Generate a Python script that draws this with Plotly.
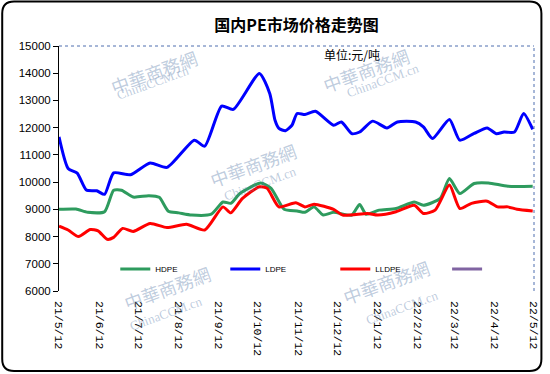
import plotly.graph_objects as go

title_text = "国内PE市场价格走势图"
unit_text = "单位:元/吨"

tick_dates = ["2021-05-12", "2021-06-12", "2021-07-12", "2021-08-12", "2021-09-12",
              "2021-10-12", "2021-11-12", "2021-12-12", "2022-01-12", "2022-02-12",
              "2022-03-12", "2022-04-12", "2022-05-12"]
tick_labels = ["21/5/12", "21/6/12", "21/7/12", "21/8/12", "21/9/12", "21/10/12",
               "21/11/12", "21/12/12", "22/1/12", "22/2/12", "22/3/12", "22/4/12", "22/5/12"]

hdpe_dates = ["2021-05-12", "2021-05-25", "2021-06-03", "2021-06-16", "2021-06-23", "2021-06-29",
              "2021-07-08", "2021-07-20", "2021-07-28", "2021-08-04", "2021-08-12", "2021-08-22",
              "2021-09-06", "2021-09-15", "2021-09-21", "2021-09-28", "2021-10-14", "2021-10-22",
              "2021-11-01", "2021-11-11", "2021-11-17", "2021-11-24", "2021-12-01", "2021-12-09",
              "2021-12-23", "2021-12-29", "2022-01-03", "2022-01-13", "2022-01-26", "2022-02-09",
              "2022-02-16", "2022-03-01", "2022-03-08", "2022-03-16", "2022-03-27", "2022-04-07",
              "2022-04-22", "2022-05-11"]
hdpe_values = [9000, 9010, 8890, 8910, 9700, 9700,
               9450, 9500, 9440, 8930, 8870, 8790,
               8820, 9270, 9220, 9580, 9970, 9770,
               9000, 8940, 8890, 9090, 8790, 8890,
               8790, 9180, 8820, 8970, 9030, 9270,
               9150, 9400, 10130, 9580, 9950, 9970,
               9850, 9850]

ldpe_dates = ["2021-05-12", "2021-05-19", "2021-05-26", "2021-06-02", "2021-06-10", "2021-06-16",
              "2021-06-23", "2021-07-06", "2021-07-21", "2021-08-03", "2021-08-24", "2021-09-01",
              "2021-09-14", "2021-09-23", "2021-10-13", "2021-10-21", "2021-10-25", "2021-10-28",
              "2021-11-02", "2021-11-07", "2021-11-11", "2021-11-17", "2021-11-25", "2021-12-09",
              "2021-12-15", "2021-12-23", "2021-12-29", "2022-01-08", "2022-01-19", "2022-01-27",
              "2022-02-10", "2022-02-16", "2022-02-23", "2022-03-08", "2022-03-16", "2022-03-27",
              "2022-04-06", "2022-04-13", "2022-04-19", "2022-04-27", "2022-05-04", "2022-05-11"]
ldpe_values = [11660, 10500, 10330, 9710, 9680, 9550,
               10340, 10270, 10700, 10540, 11540, 11320,
               12790, 12670, 13990, 13250, 12270, 11970,
               11890, 12090, 12520, 12480, 12600, 12090,
               12210, 11780, 11840, 12240, 11990, 12210,
               12210, 12030, 11600, 12300, 11540, 11790,
               11990, 11780, 11840, 11840, 12520, 11940]

lldpe_dates = ["2021-05-12", "2021-05-19", "2021-05-27", "2021-06-05", "2021-06-11", "2021-06-18",
               "2021-06-23", "2021-06-30", "2021-07-08", "2021-07-21", "2021-08-03", "2021-08-18",
               "2021-09-01", "2021-09-15", "2021-09-21", "2021-09-30", "2021-10-13", "2021-10-19",
               "2021-10-28", "2021-11-10", "2021-11-17", "2021-11-24", "2021-12-09", "2021-12-16",
               "2022-01-04", "2022-01-12", "2022-01-26", "2022-02-09", "2022-02-16", "2022-02-25",
               "2022-03-08", "2022-03-16", "2022-03-25", "2022-04-06", "2022-04-14", "2022-04-22",
               "2022-04-29", "2022-05-11"]
lldpe_values = [8380, 8240, 8000, 8260, 8210, 7900,
                7970, 8300, 8190, 8480, 8330, 8450,
                8240, 9090, 8870, 9400, 9830, 9770,
                9090, 9240, 9090, 9190, 9000, 8790,
                8850, 8790, 8910, 9150, 8850, 8970,
                9890, 9030, 9220, 9300, 9090, 9090,
                9000, 8940]

series_names = ["HDPE", "LDPE", "LLDPE", " "]
series_colors = ["#2E9B5E", "#0000FF", "#FF0000", "#8064A2"]

fig = go.Figure()
for name, color, xs, ys in [
    (series_names[0], series_colors[0], hdpe_dates, hdpe_values),
    (series_names[1], series_colors[1], ldpe_dates, ldpe_values),
    (series_names[2], series_colors[2], lldpe_dates, lldpe_values),
]:
    fig.add_trace(go.Scatter(x=xs, y=ys, name=name, mode="lines", legend="legend",
                             line=dict(color=color, width=3, shape="spline", smoothing=0.6)))
fig.add_trace(go.Scatter(x=[None], y=[None], name=series_names[3], mode="lines",
                         legend="legend2", line=dict(color=series_colors[3], width=3)))

# plot area in pixels: left 59, right 540, top 46, bottom 291
L, R, T, B = 59, 540, 46, 291
W, H = R - L, B - T
def px(X):
    return (X - L) / W
def py(Y):
    return (B - Y) / H

shapes = []
shapes.append(dict(type="line", xref="paper", yref="paper", x0=0, x1=1, y0=1, y1=1,
                   line=dict(color="#4F6FAF", width=1, dash="dot")))
shapes.append(dict(type="line", xref="paper", yref="paper", x0=1, x1=1, y0=0, y1=1,
                   line=dict(color="#4F6FAF", width=1, dash="dot")))
x0, x1, y0, y1, r = 1.5, 547.5, 1.5, 371, 12
path = (f"M {px(x0 + r)},{py(y0)} L {px(x1 - r)},{py(y0)} "
        f"Q {px(x1)},{py(y0)} {px(x1)},{py(y0 + r)} "
        f"L {px(x1)},{py(y1 - r)} Q {px(x1)},{py(y1)} {px(x1 - r)},{py(y1)} "
        f"L {px(x0 + r)},{py(y1)} Q {px(x0)},{py(y1)} {px(x0)},{py(y1 - r)} "
        f"L {px(x0)},{py(y0 + r)} Q {px(x0)},{py(y0)} {px(x0 + r)},{py(y0)} Z")
shapes.append(dict(type="path", xref="paper", yref="paper", path=path,
                   line=dict(color="black", width=2), layer="above"))

annotations = []
annotations.append(dict(text=unit_text, xref="paper", yref="paper",
                        x=px(386), y=py(44), showarrow=False,
                        font=dict(family="Noto Sans CJK SC", size=12, color="black")))
wm_color = "rgba(90,125,170,0.40)"
for (wx, wy, sz) in [(105, 42, 18), (420, 40, 18), (255, 165, 18), (118, 318, 18), (440, 312, 18)]:
    annotations.append(dict(text="中華商務網", xref="paper", yref="paper", x=px(wx), y=py(wy),
                            showarrow=False, textangle=-20,
                            font=dict(family="Noto Sans CJK TC", size=sz, color=wm_color)))
    annotations.append(dict(text="ChinaCCM.cn", xref="paper", yref="paper", x=px(wx + 8), y=py(wy + 18),
                            showarrow=False, textangle=-20,
                            font=dict(family="Liberation Serif", size=13, color=wm_color)))

legend_font = dict(family="Liberation Sans", size=8, color="black")
fig.update_layout(
    width=550, height=374,
    margin=dict(l=L, r=550 - R, t=T, b=374 - B),
    paper_bgcolor="white", plot_bgcolor="white",
    title=dict(text="<b>" + title_text + "</b>", x=0.5, xref="paper", xanchor="center",
               y=1 - 25 / 374, yanchor="middle",
               font=dict(family="Noto Sans CJK SC", size=16, color="black")),
    showlegend=True,
    legend=dict(orientation="h", x=px(116), y=py(269), xanchor="left", yanchor="middle",
                font=legend_font, entrywidth=65, entrywidthmode="pixels", itemwidth=30,
                bgcolor="rgba(0,0,0,0)", traceorder="normal"),
    legend2=dict(orientation="h", x=px(452), y=py(269), xanchor="left", yanchor="middle",
                 font=legend_font, itemwidth=30, bgcolor="rgba(0,0,0,0)"),
    shapes=shapes, annotations=annotations,
)
fig.update_xaxes(type="date", range=["2021-05-12", "2022-05-12"],
                 tickvals=tick_dates, ticktext=tick_labels, tickangle=90,
                 showgrid=False, zeroline=False, showline=False, ticks="",
                 ticklabelstandoff=9,
                 tickfont=dict(family="Liberation Mono", size=11.5, color="black"))
fig.update_yaxes(range=[6000, 15000], dtick=1000, tick0=6000, tickformat="d",
                 showgrid=False, zeroline=False, showline=True, linecolor="black", linewidth=1,
                 ticks="outside", ticklen=5, tickcolor="black",
                 tickfont=dict(family="Liberation Sans", size=11.5, color="black"))

fig.write_html("out.html", config={"displayModeBar": False},
               post_script="document.body.style.margin='0';document.body.style.padding='0';"
                           "document.documentElement.style.overflow='hidden';")
